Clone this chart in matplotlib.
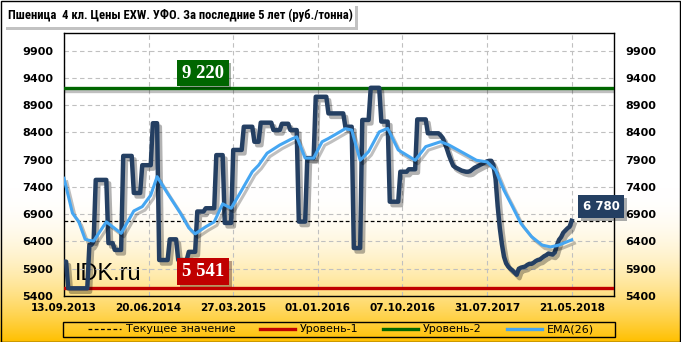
import numpy as np
import matplotlib.pyplot as plt
from matplotlib import patheffects as pe
from matplotlib.lines import Line2D
from matplotlib.patches import Rectangle

# weekly prices, rub/t
price = [
    6030, 6030, 5541, 5541, 5541, 5541, 5541, 5541, 5541, 5541,
    5541, 5541, 6340, 6340, 6400, 7530, 7530, 7530, 7530, 7530,
    7530, 6370, 6370, 6370, 6245, 6245, 6245, 6245, 7970, 7970,
    7970, 7970, 7970, 7290, 7290, 7290, 7290, 7800, 7800, 7800,
    7800, 7800, 8570, 8570, 8570, 6060, 6060, 6060, 6060, 6060,
    6440, 6440, 6440, 6440, 6060, 6060, 6060, 6060, 6060, 6210,
    6210, 6210, 6210, 6950, 6950, 6950, 6950, 7010, 7010, 7010,
    7010, 7010, 7985, 7985, 7985, 7985, 6740, 6740, 6740, 6740,
    8080, 8080, 8080, 8080, 8080, 8505, 8505, 8505, 8505, 8505,
    8230, 8230, 8230, 8580, 8580, 8580, 8580, 8580, 8580, 8445,
    8445, 8445, 8445, 8560, 8560, 8560, 8560, 8445, 8445, 8445,
    8445, 6765, 6765, 6765, 6765, 7930, 7930, 7930, 7930, 9055,
    9055, 9055, 9055, 9055, 9055, 8750, 8750, 8750, 8750, 8750,
    8750, 8750, 8750, 8505, 8505, 8505, 8505, 6280, 6280, 6280,
    6280, 8630, 8630, 8630, 8630, 9220, 9220, 9220, 9220, 9220,
    8600, 8600, 8600, 8600, 7130, 7130, 7130, 7130, 7130, 7680,
    7680, 7680, 7680, 7725, 7725, 7725, 7725, 8640, 8640, 8640,
    8640, 8640, 8385, 8385, 8385, 8385, 8385, 8385, 8350, 8300,
    8200, 8100, 7980, 7880, 7790, 7760, 7740, 7720, 7700, 7690,
    7680, 7680, 7690, 7720, 7750, 7770, 7790, 7810, 7830, 7850,
    7870, 7880, 7880, 7800, 7550, 7050, 6650, 6350, 6120, 6000,
    5940, 5900, 5870, 5830, 5790, 5900, 5920, 5930, 5940, 5970,
    5990, 5990, 6010, 6040, 6060, 6070, 6100, 6130, 6150, 6180,
    6170, 6160, 6200, 6330, 6430, 6480, 6560, 6600, 6640, 6670,
    6780,
]

ema_idx = [0, 4, 7, 10, 12, 14, 20, 27, 33, 37, 41, 44, 49, 55, 59, 62, 67,
           71, 75, 79, 84, 89, 92, 96, 102, 107, 110, 114, 118, 122, 125, 129,
           133, 136, 140, 144, 149, 153, 158, 166, 171, 178, 182, 189, 195,
           200, 204, 208, 212, 216, 221, 226, 230, 234, 240]
ema_val = [7560, 6920, 6760, 6440, 6420, 6410, 6760, 6550, 6960, 7040, 7250,
           7590, 7280, 6920, 6650, 6540, 6670, 6760, 7090, 7010, 7340, 7680,
           7800, 8020, 8170, 8270, 8320, 7930, 7930, 8230, 8290, 8380, 8470,
           8445, 7890, 8050, 8410, 8475, 8080, 7890, 8140, 8230, 8170, 8020,
           7890, 7860, 7710, 7340, 7040, 6730, 6490, 6335, 6300, 6335, 6430]

level1 = 5541
level2 = 9220
current = 6780

date_pos = [0, 40, 80, 120, 160, 200, 240]
date_lbl = ["13.09.2013", "20.06.2014", "27.03.2015", "01.01.2016",
            "07.10.2016", "31.07.2017", "21.05.2018"]
y_ticks = [5400, 5900, 6400, 6900, 7400, 7900, 8400, 8900, 9400, 9900]

navy = "#243F62"
blue = "#45A6F2"
green = "#006600"
red = "#C00000"

W, H = 681, 342
fig = plt.figure(figsize=(W / 100, H / 100), dpi=100)

# background gradient white -> gold
bg = fig.add_axes([0, 0, 1, 1], zorder=-10)
t = np.linspace(0, 1, 400)
f = np.clip((t - 0.55) / 0.45, 0, 1) ** 2
grad = np.ones((400, 1, 3))
grad[:, 0, 1] = 1 - f * (63 / 255)
grad[:, 0, 2] = 1 - f
bg.imshow(grad, aspect="auto", extent=[0, 1, 0, 1])
bg.set_xlim(0, 1)
bg.set_ylim(0, 1)
bg.set_axis_off()
bg.add_patch(Rectangle((0.5 / W, 0.5 / H), 1 - 1.5 / W, 1 - 1.5 / H,
                       fill=False, edgecolor="black", lw=1.0))

# title box
bg.add_patch(Rectangle((6 / W, 1 - 30 / H), 352 / W, 24 / H,
                       facecolor="#9a9a9a", edgecolor="none", alpha=0.6))
bg.add_patch(Rectangle((3 / W, 1 - 27 / H), 352 / W, 24 / H,
                       facecolor="white", edgecolor="none"))
bg.text(8 / W, 1 - 15.5 / H,
        "Пшеница  4 кл. Цены EXW. УФО. За последние 5 лет (руб./тонна)",
        fontsize=9.1, fontweight="bold", va="center", ha="left",
        family=["Roboto Condensed", "Liberation Sans Narrow", "DejaVu Sans"])

ax = fig.add_axes([64 / W, 46 / H, 550 / W, 263 / H])
ax.set_facecolor("none")
ax.set_xlim(0, 260)
ax.set_ylim(5400, 10225)

ax.set_yticks(y_ticks)
ax.set_xticks(date_pos)
ax.set_xticklabels(date_lbl)
ax.tick_params(axis="y", length=0, labelleft=True, labelright=True, pad=8,
               labelsize=8)
ax.tick_params(axis="x", length=0, pad=5, labelsize=7.5)
for lb in ax.get_xticklabels() + ax.get_yticklabels():
    lb.set_fontweight("bold")
for tl in ax.yaxis.get_major_ticks():
    tl.label2.set_fontweight("bold")
ax.grid(True, color="#C0C0C0", linestyle=(0, (4, 3)), lw=0.8)
ax.set_axisbelow(True)
for s in ax.spines.values():
    s.set_linewidth(1.0)
    s.set_color("black")

shadow = [pe.SimpleLineShadow(offset=(1.5, -2), alpha=0.25), pe.Normal()]

ax.axhline(level2, color=green, lw=2.4, path_effects=shadow, zorder=3)
ax.axhline(level1, color=red, lw=2.4, zorder=3)
ax.axhline(current, color="black", lw=0.9, linestyle=(0, (3, 2)), zorder=3)

x = np.arange(len(price))
ax.plot(x, price, color=navy, lw=3.2, solid_joinstyle="round",
        path_effects=[pe.SimpleLineShadow(offset=(2, -2.5), alpha=0.3),
                      pe.Normal()], zorder=4)
ax.plot(ema_idx, ema_val, color=blue, lw=2.2,
        path_effects=[pe.SimpleLineShadow(offset=(2, -2.5), alpha=0.25),
                      pe.Normal()], zorder=5)


def tag(xv, yv, text, color, family, size, pad):
    tx = ax.text(xv, yv, text, color="white", fontsize=size,
                 fontweight="bold", family=family, ha="center", va="center",
                 zorder=6, clip_on=False,
                 bbox=dict(boxstyle="square,pad=%s" % pad, facecolor=color,
                           edgecolor="none"))
    tx.get_bbox_patch().set_path_effects(
        [pe.withSimplePatchShadow(offset=(2, -2), alpha=0.35)])


tag(65.7, 9490, "9 220", green, "Liberation Serif", 13.5, 0.25)
tag(65.7, 5849, "5 541", red, "Liberation Serif", 13.5, 0.25)
tag(254, 7041, "6 780", navy, "DejaVu Sans", 8.5, 0.4)

bg.text(75 / W, (H - 280) / H, "IDK.ru", fontsize=17,
        family="Liberation Sans", va="baseline", ha="left")

# legend, laid out as in the original
leg_styles = [
    dict(color="black", lw=0.9, linestyle=(0, (3, 2))),
    dict(color=red, lw=2.4),
    dict(color=green, lw=2.4),
    dict(color=blue, lw=2.4),
]
leg_labels = ["Текущее значение", "Уровень-1", "Уровень-2", "EMA(26)"]
leg_x = [88, 260, 383, 507]
leg_len = [33, 35, 35, 35]
ly = (H - 329) / H
bg.add_patch(Rectangle((63 / W, (H - 336.5) / H), 552 / W, 14.5 / H,
                       fill=False, edgecolor="black", lw=1.0))
for st, lab, lx, ll in zip(leg_styles, leg_labels, leg_x, leg_len):
    bg.add_line(Line2D([lx / W, (lx + ll) / W], [ly, ly], **st))
    bg.text((lx + ll + 5) / W, ly, lab, fontsize=8, va="center", ha="left")

fig.savefig("out.png", dpi=100)
